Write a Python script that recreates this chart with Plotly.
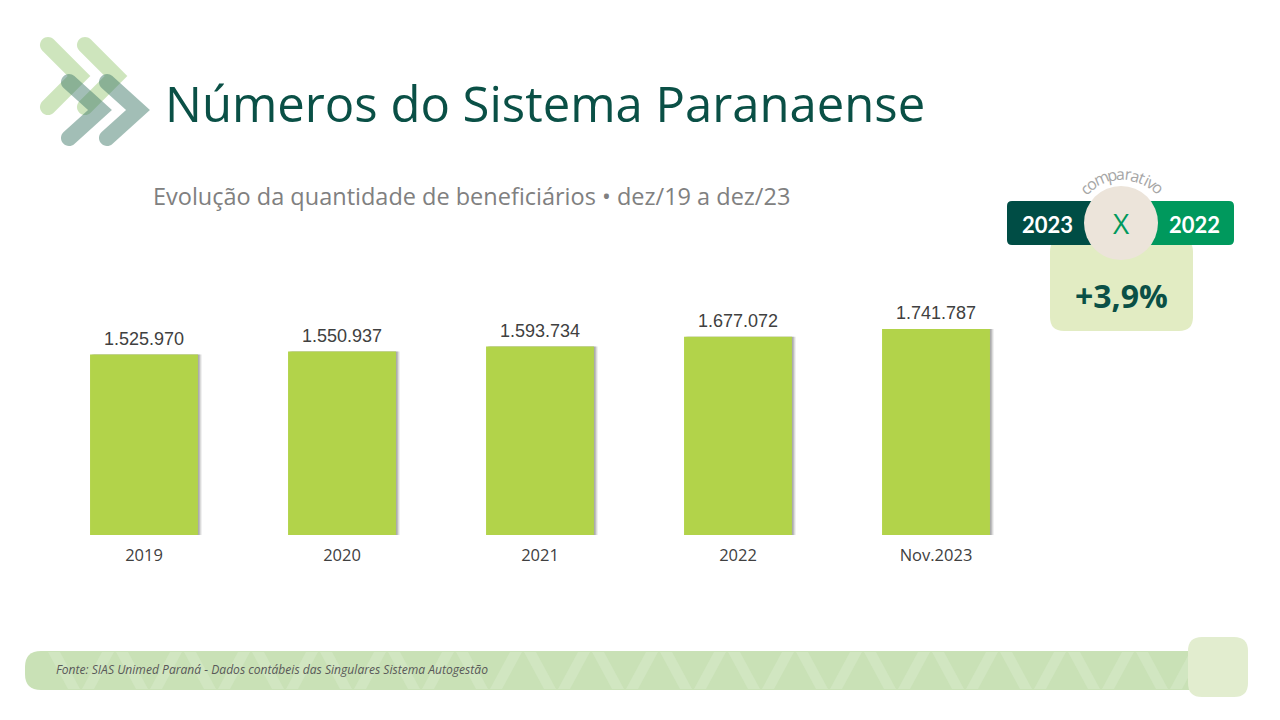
import numpy as np
import plotly.graph_objects as go

# ---------------- data ----------------
categories = ["2019", "2020", "2021", "2022", "Nov.2023"]
beneficiarios = [1525970, 1550937, 1593734, 1677072, 1741787]
value_labels = [f"{v:,}".replace(",", ".") for v in beneficiarios]

title_text = "Números do Sistema Paranaense"
subtitle_text = "Evolução da quantidade de beneficiários • dez/19 a dez/23"
comp_left = "2023"
comp_right = "2022"
comp_mid = "X"
comp_value = "+3,9%"
comp_caption = "comparativo"
source_text = "Fonte: SIAS Unimed Paraná - Dados contábeis das Singulares Sistema Autogestão"

W, H = 1280, 720
BAR_COLOR = "#b2d34a"
TEAL = "#0a5046"
FONT = "Open Sans, Lato, sans-serif"


def X(x):
    return x / W


def Y(y):
    return 1 - y / H


def fmt(x, y):
    return f"{X(x):.5f},{Y(y):.5f}"


def roundrect(x0, y0, x1, y1, r):
    p = [f"M{fmt(x0 + r, y0)}", f"L{fmt(x1 - r, y0)}", f"Q{fmt(x1, y0)} {fmt(x1, y0 + r)}",
         f"L{fmt(x1, y1 - r)}", f"Q{fmt(x1, y1)} {fmt(x1 - r, y1)}", f"L{fmt(x0 + r, y1)}",
         f"Q{fmt(x0, y1)} {fmt(x0, y1 - r)}", f"L{fmt(x0, y0 + r)}", f"Q{fmt(x0, y0)} {fmt(x0 + r, y0)}", "Z"]
    return " ".join(p)


def chevron(p0, p1, p2, w):
    p0, p1, p2 = map(lambda p: np.array(p, float), (p0, p1, p2))
    h = w / 2
    k = 0.5523
    d1 = (p1 - p0) / np.linalg.norm(p1 - p0)
    d2 = (p2 - p1) / np.linalg.norm(p2 - p1)
    n1 = np.array([-d1[1], d1[0]])
    n2 = np.array([-d2[1], d2[0]])
    mit = h * (n1 + n2) / (1 + n1 @ n2)

    def f(p):
        return fmt(p[0], p[1])

    def cap(P, a, e):
        S = P + h * a
        M = P + h * e
        E = P - h * a
        return (f"C{f(S + k * h * e)} {f(M + k * h * a)} {f(M)} "
                f"C{f(M - k * h * a)} {f(E + k * h * e)} {f(E)}")

    parts = [f"M{f(p0 + h * n1)}", f"L{f(p1 + mit)}", f"L{f(p2 + h * n2)}",
             cap(p2, n2, d2), f"L{f(p1 - mit)}", f"L{f(p0 - h * n1)}",
             cap(p0, -n1, -d1), "Z"]
    return " ".join(parts)


fig = go.Figure()

# soft shadow behind bars (right side)
for off, alpha in [(0.020, 0.08), (0.014, 0.14), (0.008, 0.25)]:
    fig.add_trace(go.Bar(
        x=categories, y=beneficiarios, width=0.545, offset=-0.2725 + off,
        marker=dict(color=f"rgba(50,50,50,{alpha})", line=dict(width=0)),
        hoverinfo="skip", showlegend=False))

fig.add_trace(go.Bar(
    x=categories, y=beneficiarios, width=0.545, offset=-0.2725,
    marker=dict(color=BAR_COLOR, line=dict(width=0)),
    showlegend=False))

annotations = []
for i, (v, lab) in enumerate(zip(beneficiarios, value_labels)):
    annotations.append(dict(x=i, y=v, xref="x", yref="y", text=lab, showarrow=False,
                            yanchor="bottom", yshift=4,
                            font=dict(family="Liberation Sans, Arial", size=18, color="#404040")))

# title & subtitle
annotations.append(dict(x=X(163), y=Y(103), xref="paper", yref="paper", text=title_text,
                        showarrow=False, xanchor="left", yanchor="middle",
                        font=dict(family=FONT, size=49, color=TEAL)))
annotations.append(dict(x=X(151), y=Y(196), xref="paper", yref="paper", text=subtitle_text,
                        showarrow=False, xanchor="left", yanchor="middle",
                        font=dict(family=FONT, size=23.5, color="#808080")))

# comparison box text
annotations += [
    dict(x=X(1047), y=Y(224), text=f"<b>{comp_left}</b>", font=dict(family="Lato, sans-serif", size=22, color="white")),
    dict(x=X(1194), y=Y(224), text=f"<b>{comp_right}</b>", font=dict(family="Lato, sans-serif", size=22, color="white")),
    dict(x=X(1121), y=Y(223), text=comp_mid, font=dict(family=FONT, size=28, color="#00995d")),
    dict(x=X(1121), y=Y(295), text=f"<b>{comp_value}</b>", font=dict(family=FONT, size=32, color=TEAL)),
]
for a in annotations[-4:]:
    a.update(xref="paper", yref="paper", showarrow=False, xanchor="center", yanchor="middle")

# curved caption
widths = {"c": .45, "o": .56, "m": .86, "p": .57, "a": .54, "r": .38, "t": .34, "i": .25, "v": .50}
cap_size = 16
R = 54
ws = [widths.get(ch, .5) * cap_size for ch in comp_caption]
total = sum(ws)
pos = -total / 2
for ch, wch in zip(comp_caption, ws):
    s = pos + wch / 2
    th = s / R
    cx, cy = 1122 + R * np.sin(th), 228 - R * np.cos(th)
    annotations.append(dict(x=X(cx), y=Y(cy), xref="paper", yref="paper", text=ch, showarrow=False,
                            textangle=float(np.degrees(th)), xanchor="center", yanchor="middle",
                            font=dict(family=FONT, size=cap_size, color="#a6a6a6")))
    pos += wch

# footer text
annotations.append(dict(x=X(54), y=Y(669), xref="paper", yref="paper", text=f"<i>{source_text}</i>",
                        showarrow=False, xanchor="left", yanchor="middle",
                        font=dict(family=FONT, size=12.1, color="#595959")))

shapes = []
# logo chevrons
light = "rgba(165,208,135,0.55)"
dark = "rgba(70,125,110,0.5)"
for pts in [((48, 45), (79, 76), (48, 107)), ((85, 45), (116, 76), (85, 107))]:
    shapes.append(dict(type="path", path=chevron(*pts, 16), fillcolor=light, line=dict(width=0)))
for pts in [((69, 82), (100, 110), (69, 138)), ((107, 82), (138, 110), (107, 138))]:
    shapes.append(dict(type="path", path=chevron(*pts, 16), fillcolor=dark, line=dict(width=0)))

# comparison box shapes
shapes.append(dict(type="path", path=roundrect(1050, 238, 1193, 331, 14), fillcolor="#e2ecc3", line=dict(width=0)))
shapes.append(dict(type="path", path=roundrect(1007, 201, 1112, 245, 5), fillcolor="#004d45", line=dict(width=0)))
shapes.append(dict(type="path", path=roundrect(1130, 201, 1234, 245, 5), fillcolor="#00995d", line=dict(width=0)))
shapes.append(dict(type="circle", x0=X(1084), x1=X(1158), y0=Y(260), y1=Y(186),
                   fillcolor="#ece4da", line=dict(width=0)))

# footer band with subtle zigzag pattern
shapes.append(dict(type="path", path=roundrect(25, 651, 1215, 690, 16), fillcolor="#c9e1b6", line=dict(width=0)))
x = 48
flip = False
while x < 1180:
    if not flip:
        pth = f"M{fmt(x, 652)} L{fmt(x + 12, 652)} L{fmt(x + 32, 689)} L{fmt(x + 20, 689)} Z"
    else:
        pth = f"M{fmt(x + 20, 652)} L{fmt(x + 32, 652)} L{fmt(x + 12, 689)} L{fmt(x, 689)} Z"
    shapes.append(dict(type="path", path=pth, fillcolor="#d1e6c1", line=dict(width=0)))
    x += 34
    flip = not flip
shapes.append(dict(type="path", path=roundrect(1188, 637, 1248, 697, 14), fillcolor="#e2edcf", line=dict(width=0)))

for s in shapes:
    s.setdefault("xref", "paper")
    s.setdefault("yref", "paper")
    s["layer"] = "above"

fig.update_layout(
    width=W, height=H, margin=dict(l=0, r=0, t=0, b=0),
    paper_bgcolor="white", plot_bgcolor="white",
    barmode="overlay", showlegend=False,
    xaxis=dict(type="category", range=[-0.5, 4.5], domain=[X(45), X(1035)],
               showgrid=False, zeroline=False, showline=False, ticks="",
               ticklabelstandoff=8,
               tickfont=dict(family=FONT, size=16.5, color="#404040")),
    yaxis=dict(range=[0, 2536583], domain=[Y(535), Y(235)], visible=False,
               showgrid=False, zeroline=False),
    annotations=annotations, shapes=shapes,
)

fig.write_html("out.html", config={"displayModeBar": False},
               post_script="document.body.style.margin='0';document.body.style.overflow='hidden';")
